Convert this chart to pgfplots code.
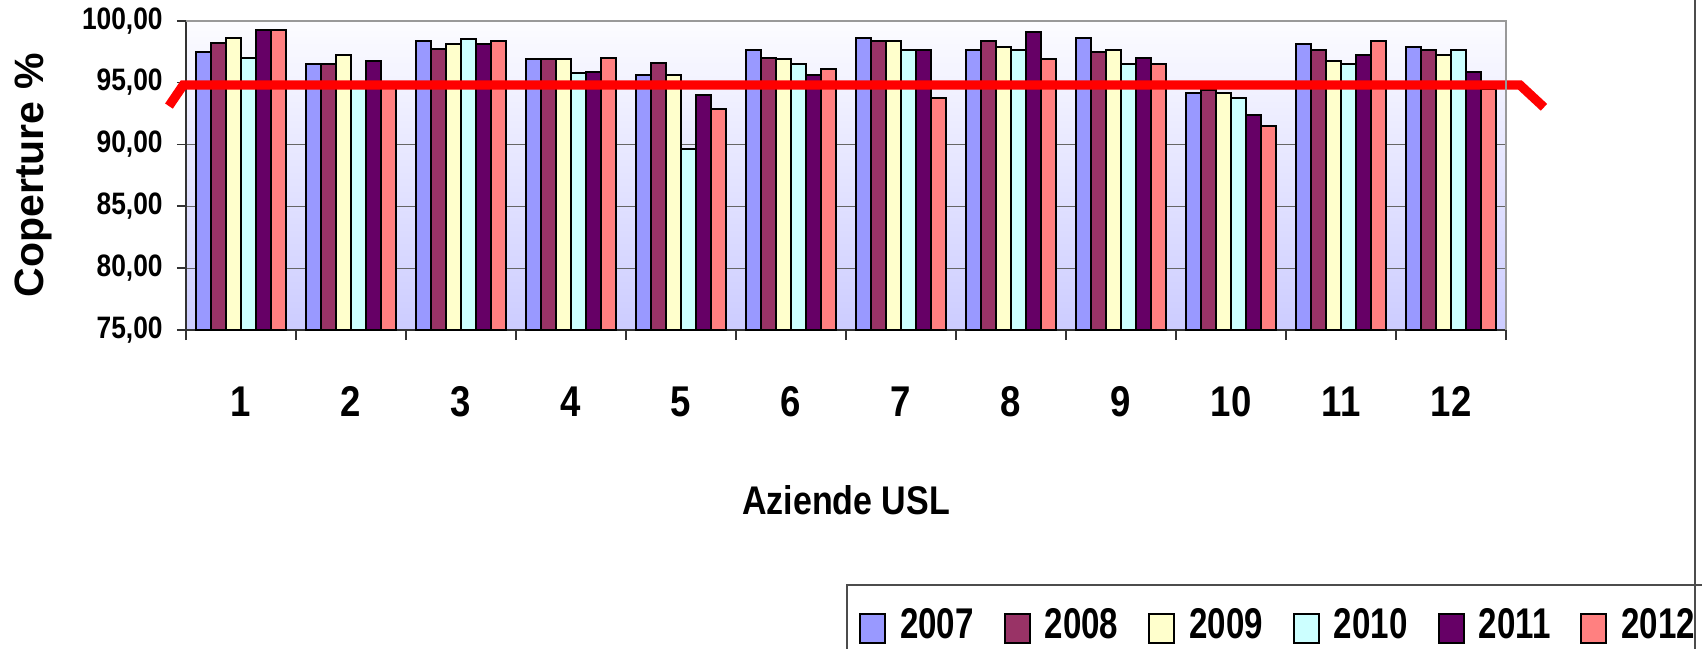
\documentclass[border=0pt]{standalone}
\usepackage{pgfplots}
\pgfplotsset{compat=1.18}
\usepackage{pgfplotstable}
\usepackage{fontspec}
\setmainfont{Liberation Sans}
\newfontfamily\cond[FakeStretch=0.85]{Liberation Sans}
\newfontfamily\condl[FakeStretch=0.77]{Liberation Sans}

\newcommand\tickfont{\cond\bfseries\fontsize{15.5pt}{15.5pt}\selectfont}
\newcommand\catfont{\cond\bfseries\fontsize{21.5pt}{21.5pt}\selectfont}
\newcommand\xlabfont{\cond\bfseries\fontsize{20pt}{20pt}\selectfont}
\newcommand\ylabfont{\bfseries\fontsize{20.5pt}{20.5pt}\selectfont}
\newcommand\legfont{\condl\bfseries\fontsize{21.5pt}{21.5pt}\selectfont}

\definecolor{c07}{RGB}{153,153,255}
\definecolor{c08}{RGB}{153,51,102}
\definecolor{c09}{RGB}{255,255,204}
\definecolor{c10}{RGB}{204,255,255}
\definecolor{c11}{RGB}{102,0,102}
\definecolor{c12}{RGB}{255,128,128}
\definecolor{bgtop}{RGB}{252,252,255}
\definecolor{bgbot}{RGB}{204,204,255}

% coperture per Azienda USL e anno
\pgfplotstableread{
usl y07   y08   y09   y10   y11   y12
1   97.44 98.17 98.57 96.95 99.25 99.25
2   96.47 96.50 97.20 95.00 96.74 94.90
3   98.33 97.68 98.11 98.54 98.14 98.33
4   96.93 96.93 96.93 95.79 95.85 96.98
5   95.58 96.55 95.58 89.62 93.99 92.85
6   97.63 96.95 96.93 96.49 95.58 96.06
7   98.57 98.38 98.38 97.65 97.65 93.77
8   97.65 98.35 97.90 97.65 99.06 96.93
9   98.57 97.44 97.65 96.50 96.95 96.50
10  94.17 94.39 94.17 93.77 92.37 91.45
11  98.11 97.65 96.74 96.52 97.20 98.33
12  97.90 97.65 97.20 97.65 95.85 94.50
}\cov

\begin{document}
\begin{tikzpicture}
\useasboundingbox (-93pt,-159pt) rectangle (758pt,165pt);
\begin{axis}[
  at={(0pt,0pt)}, anchor=south west,
  scale only axis,
  width=660pt, height=154.65pt,
  xmin=0.5, xmax=12.5,
  ymin=75, ymax=100,
  ybar, bar width=0.137,
  clip=false,
  xtick={1,...,12},
  xticklabels={1,2,3,4,5,6,7,8,9,10,11,12},
  minor xtick={0.5,1.5,...,12.5},
  major x tick style={draw=none},
  ytick={75,80,...,100},
  tick align=outside,
  major tick length=4.5pt,
  minor tick length=5pt,
  ymajorgrids,
  grid style={black!60, line width=0.6pt},
  axis x line*=bottom,
  axis y line*=left,
  axis line style={black!80, line width=0.8pt},
  tick style={black!80, line width=0.8pt},
  axis background/.style={top color=bgtop, bottom color=bgbot},
  yticklabel style={font=\tickfont, anchor=east, inner sep=0pt, xshift=-7pt,
    /pgf/number format/.cd, fixed, fixed zerofill, precision=2, use comma,
    assume math mode=true},
  xticklabel style={font=\catfont, anchor=base, inner sep=0pt, yshift=-38.8pt},
  xlabel={Aziende USL},
  xlabel style={font=\xlabfont, at={(axis description cs:0.5,-0.5949)}, anchor=base, inner sep=0pt},
  ylabel={Coperture \%},
  ylabel style={font=\ylabfont, at={(axis description cs:-0.1083,0.5)}, anchor=base, inner sep=0pt},
  legend columns=6,
  legend style={at={(axis description cs:0.5,-0.8212)}, anchor=north west,
    draw=black!70, line width=1pt, fill=white, font=\legfont,
    inner xsep=6pt, inner ysep=11.5pt,
    nodes={inner sep=0pt},
    /tikz/every odd column/.append style={column sep=7pt},
    /tikz/every even column/.append style={column sep=15pt}},
  sq/.style={draw=black, line width=1pt,
    legend image code/.code={\draw[fill=##1, draw=black, line width=1pt] (0pt,-9.25pt) rectangle (12.5pt,5.25pt);}},
  after end axis/.code={
    \draw[gray!80, line width=1pt] (rel axis cs:0,1) -- (rel axis cs:1,1) -- (rel axis cs:1,0);
  },
]
\addplot[fill=c07, sq=c07, bar shift=-0.3425] table[x=usl, y=y07] {\cov};
\addlegendentry{2007}
\addplot[fill=c08, sq=c08, bar shift=-0.2055] table[x=usl, y=y08] {\cov};
\addlegendentry{2008}
\addplot[fill=c09, sq=c09, bar shift=-0.0685] table[x=usl, y=y09] {\cov};
\addlegendentry{2009}
\addplot[fill=c10, sq=c10, bar shift=0.0685] table[x=usl, y=y10] {\cov};
\addlegendentry{2010}
\addplot[fill=c11, sq=c11, bar shift=0.2055] table[x=usl, y=y11] {\cov};
\addlegendentry{2011}
\addplot[fill=c12, sq=c12, bar shift=0.3425] table[x=usl, y=y12] {\cov};
\addlegendentry{2012}
% soglia
\addplot[sharp plot, forget plot, draw=red, line width=4.65pt, line join=miter, line cap=butt]
  coordinates {(0.345,93.1) (0.475,94.8) (12.627,94.8) (12.845,93.0)};
\end{axis}
\draw[black!70, line width=1pt] (754.5pt,-160pt) -- (754.5pt,166pt);
\end{tikzpicture}
\end{document}
